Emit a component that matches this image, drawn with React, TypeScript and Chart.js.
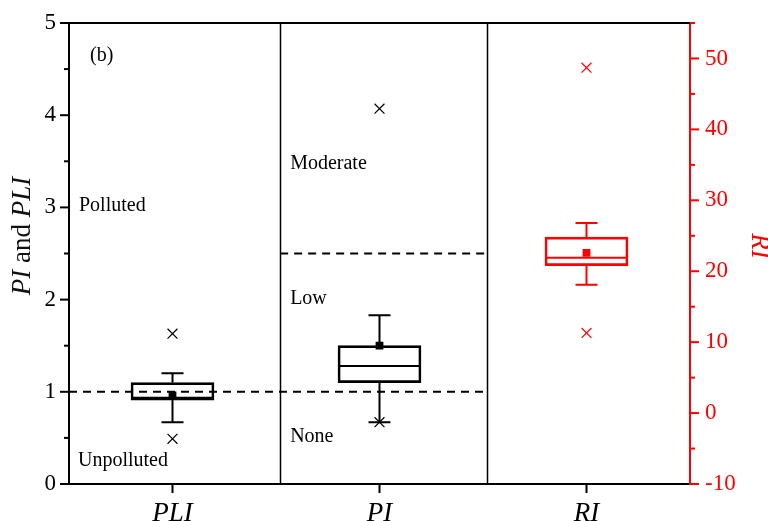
import { useEffect, useRef } from 'react';
import { Chart, registerables } from 'chart.js';

Chart.register(...registerables);

// Categories along the x axis
const categories = ['PLI', 'PI', 'RI'];

// Box statistics: [whisker low, Q1, median, Q3, whisker high]
const pliBox = [0.67, 0.91, 0.935, 1.1, 1.2];
const piBox = [0.67, 1.1, 1.28, 1.5, 1.83];
const riBox = [18.1, 20.8, 21.9, 24.8, 26.8];

// Mean values (PLI, PI on the left axis; RI on the right axis)
const meanValues = [0.96, 1.5, 22.6];

// Outliers
const pliOutliers = [1.63, 0.49];
const piOutliers = [4.07, 0.67];
const riOutliers = [48.7, 11.3];

// Axis ranges and tick steps
const leftRange = [0, 5];
const rightRange = [-10, 55];
const leftMajor = 1;
const rightMajor = 10;

// Class thresholds
const pliThreshold = 1;
const piThresholds = [1, 2.5];

// Panel dividers, in category units
const dividers = [0.52, 1.52];

const FONT = "'Liberation Serif', 'Times New Roman', serif";
const RED = '#ff0000';

const catPx = (x: any, v: number) => {
  const a = x.getPixelForValue(0);
  const b = x.getPixelForValue(1);
  return a + (b - a) * v;
};

// keep tick labels from pushing the plot area inwards
const flattenPadding = (s: any) => {
  s.paddingTop = 0;
  s.paddingBottom = 0;
};

const boxPlugin = {
  id: 'boxDecor',
  beforeDatasetsDraw(chart: any) {
    const { ctx, chartArea, scales } = chart;
    const x = scales.x;
    const y = scales.y;
    ctx.save();
    ctx.strokeStyle = '#000';
    ctx.lineWidth = 2;
    ctx.setLineDash([8, 6]);
    // PLI threshold spans PLI and PI panels
    const y1 = y.getPixelForValue(pliThreshold);
    ctx.beginPath();
    ctx.moveTo(chartArea.left, y1);
    ctx.lineTo(catPx(x, dividers[1]), y1);
    ctx.stroke();
    // PI upper threshold only in PI panel
    const y2 = y.getPixelForValue(piThresholds[1]);
    ctx.beginPath();
    ctx.moveTo(catPx(x, dividers[0]), y2);
    ctx.lineTo(catPx(x, dividers[1]), y2);
    ctx.stroke();
    ctx.setLineDash([]);

    // panel separators
    ctx.lineWidth = 1.5;
    dividers.forEach((d) => {
      const px = Math.round(catPx(x, d)) + 0.5;
      ctx.beginPath();
      ctx.moveTo(px, chartArea.top);
      ctx.lineTo(px, chartArea.bottom);
      ctx.stroke();
    });
    ctx.restore();
  },
  afterDatasetsDraw(chart: any) {
    const { ctx, scales } = chart;
    const x = scales.x;
    const boxes = [
      { stats: pliBox, scale: scales.y, color: '#000' },
      { stats: piBox, scale: scales.y, color: '#000' },
      { stats: riBox, scale: scales.y2, color: RED },
    ];
    ctx.save();
    boxes.forEach((b, i) => {
      const cx = x.getPixelForValue(i);
      const boxHalf = 41.5;
      const capHalf = 11;
      const [lo, q1, med, q3, hi] = b.stats.map((v: number) => b.scale.getPixelForValue(v));
      ctx.strokeStyle = b.color;
      ctx.lineWidth = 2;
      // median
      ctx.beginPath();
      ctx.moveTo(cx - boxHalf, med);
      ctx.lineTo(cx + boxHalf, med);
      ctx.stroke();
      // whiskers
      ctx.beginPath();
      ctx.moveTo(cx, q3);
      ctx.lineTo(cx, hi);
      ctx.moveTo(cx - capHalf, hi);
      ctx.lineTo(cx + capHalf, hi);
      ctx.moveTo(cx, q1);
      ctx.lineTo(cx, lo);
      ctx.moveTo(cx - capHalf, lo);
      ctx.lineTo(cx + capHalf, lo);
      ctx.stroke();
    });
    ctx.restore();
  },
  afterDraw(chart: any) {
    const { ctx, chartArea, scales } = chart;
    const x = scales.x;
    const y = scales.y;
    const y2 = scales.y2;
    ctx.save();

    // top frame line
    ctx.strokeStyle = '#000';
    ctx.lineWidth = 2;
    ctx.beginPath();
    ctx.moveTo(chartArea.left - 1, chartArea.top);
    ctx.lineTo(chartArea.right, chartArea.top);
    ctx.stroke();

    // left axis ticks (major + minor)
    for (let v = leftRange[0]; v <= leftRange[1] + 1e-9; v += leftMajor / 2) {
      const py = y.getPixelForValue(v);
      const major = Math.abs(v - Math.round(v)) < 1e-9;
      ctx.beginPath();
      ctx.moveTo(chartArea.left, py);
      ctx.lineTo(chartArea.left - (major ? 9 : 5), py);
      ctx.stroke();
    }
    // bottom ticks at category centres
    categories.forEach((_, i) => {
      const px = x.getPixelForValue(i);
      ctx.beginPath();
      ctx.moveTo(px, chartArea.bottom);
      ctx.lineTo(px, chartArea.bottom + 9);
      ctx.stroke();
    });
    // right axis ticks
    ctx.strokeStyle = RED;
    for (let v = rightRange[0]; v <= rightRange[1] + 1e-9; v += rightMajor / 2) {
      const py = y2.getPixelForValue(v);
      const major = v % rightMajor === 0;
      ctx.beginPath();
      ctx.moveTo(chartArea.right, py);
      ctx.lineTo(chartArea.right + (major ? 9 : 5), py);
      ctx.stroke();
    }

    // annotations
    ctx.fillStyle = '#000';
    ctx.font = `20px ${FONT}`;
    ctx.textBaseline = 'middle';
    ctx.textAlign = 'left';
    ctx.fillText('(b)', chartArea.left + 21, y.getPixelForValue(4.65));
    ctx.fillText('Polluted', chartArea.left + 10, y.getPixelForValue(3.02));
    ctx.fillText('Unpolluted', chartArea.left + 9, y.getPixelForValue(0.25));
    const piLeft = catPx(x, dividers[0]) + 10;
    ctx.fillText('Moderate', piLeft, y.getPixelForValue(3.47));
    ctx.fillText('Low', piLeft, y.getPixelForValue(2.01));
    ctx.fillText('None', piLeft, y.getPixelForValue(0.51));

    // left axis title: "PI and PLI"
    const parts = [
      { t: 'PI', italic: true },
      { t: ' and ', italic: false },
      { t: 'PLI', italic: true },
    ];
    const titleSize = 27;
    let total = 0;
    parts.forEach((p) => {
      ctx.font = `${p.italic ? 'italic ' : ''}${titleSize}px ${FONT}`;
      total += ctx.measureText(p.t).width;
    });
    ctx.save();
    ctx.translate(23, 236);
    ctx.rotate(-Math.PI / 2);
    ctx.fillStyle = '#111';
    ctx.textAlign = 'left';
    ctx.textBaseline = 'middle';
    let cursor = -total / 2;
    parts.forEach((p) => {
      ctx.font = `${p.italic ? 'italic ' : ''}${titleSize}px ${FONT}`;
      ctx.fillText(p.t, cursor, 0);
      cursor += ctx.measureText(p.t).width;
    });
    ctx.restore();

    // right axis title: "RI"
    ctx.save();
    ctx.translate(759, 246);
    ctx.rotate(Math.PI / 2);
    ctx.fillStyle = RED;
    ctx.font = `italic ${titleSize}px ${FONT}`;
    ctx.textAlign = 'center';
    ctx.textBaseline = 'middle';
    ctx.fillText('RI', 0, 0);
    ctx.restore();

    ctx.restore();
  },
};

export default function App() {
  const canvasRef = useRef<HTMLCanvasElement>(null);

  useEffect(() => {
    document.body.style.margin = '0';
    const canvas = canvasRef.current;
    if (!canvas) return;

    const outlierPoints = (vals: number[], cat: string) => vals.map((v) => ({ x: cat, y: v }));

    const chart = new Chart(canvas, {
      type: 'bar',
      data: {
        labels: categories,
        datasets: [
          {
            type: 'bar',
            label: 'PLI / PI',
            data: [[pliBox[1], pliBox[3]], [piBox[1], piBox[3]], null] as any,
            yAxisID: 'y',
            backgroundColor: 'rgba(255,255,255,0)',
            borderColor: '#000',
            borderWidth: 2,
            borderSkipped: false,
            barThickness: 83,
            grouped: false,
          } as any,
          {
            type: 'bar',
            label: 'RI',
            data: [null, null, [riBox[1], riBox[3]]] as any,
            yAxisID: 'y2',
            backgroundColor: 'rgba(255,255,255,0)',
            borderColor: RED,
            borderWidth: 2,
            borderSkipped: false,
            barThickness: 83,
            grouped: false,
          } as any,
          {
            type: 'scatter',
            label: 'Outliers',
            data: [...outlierPoints(pliOutliers, 'PLI'), ...outlierPoints(piOutliers, 'PI')] as any,
            yAxisID: 'y',
            pointStyle: 'crossRot',
            pointRadius: 7,
            borderColor: '#000',
            borderWidth: 1.2,
          } as any,
          {
            type: 'scatter',
            label: 'RI outliers',
            data: outlierPoints(riOutliers, 'RI') as any,
            yAxisID: 'y2',
            pointStyle: 'crossRot',
            pointRadius: 7,
            borderColor: RED,
            borderWidth: 1.2,
          } as any,
          {
            type: 'scatter',
            label: 'Mean',
            data: [
              { x: 'PLI', y: meanValues[0] },
              { x: 'PI', y: meanValues[1] },
            ] as any,
            yAxisID: 'y',
            pointStyle: 'rect',
            pointRadius: 5.5,
            backgroundColor: '#000',
            borderColor: '#000',
            borderWidth: 0,
          } as any,
          {
            type: 'scatter',
            label: 'RI mean',
            data: [{ x: 'RI', y: meanValues[2] }] as any,
            yAxisID: 'y2',
            pointStyle: 'rect',
            pointRadius: 5.5,
            backgroundColor: RED,
            borderColor: RED,
            borderWidth: 0,
          } as any,
        ],
      },
      options: {
        responsive: false,
        animation: false,
        devicePixelRatio: 1,
        layout: { padding: { top: 23, left: 0, right: 0, bottom: 0 } },
        plugins: {
          legend: { display: false },
          tooltip: { enabled: false },
        },
        scales: {
          x: {
            type: 'category',
            offset: true,
            grid: { display: false, drawTicks: false },
            border: { display: true, color: '#000', width: 2 },
            ticks: {
              color: '#000',
              padding: 14,
              font: { family: FONT, size: 27, style: 'italic' },
            },
            afterFit: (s: any) => {
              s.height = 37;
            },
          },
          y: {
            type: 'linear',
            position: 'left',
            min: leftRange[0],
            max: leftRange[1],
            grid: { display: false, drawTicks: false },
            border: { display: true, color: '#000', width: 2 },
            ticks: {
              stepSize: leftMajor,
              color: '#000',
              padding: 13,
              font: { family: FONT, size: 23 },
            },
            afterFit: (s: any) => {
              s.width = 69;
              flattenPadding(s);
            },
          },
          y2: {
            type: 'linear',
            position: 'right',
            min: rightRange[0],
            max: rightRange[1],
            grid: { display: false, drawTicks: false },
            border: { display: true, color: RED, width: 2 },
            ticks: {
              stepSize: rightMajor,
              color: RED,
              padding: 15,
              font: { family: FONT, size: 23 },
            },
            afterBuildTicks: (s: any) => {
              s.ticks = s.ticks.filter((t: any) => t.value % rightMajor === 0);
            },
            afterFit: (s: any) => {
              s.width = 78;
              flattenPadding(s);
            },
          },
        },
      } as any,
      plugins: [boxPlugin],
    });

    return () => chart.destroy();
  }, []);

  return (
    <div style={{ width: 768, height: 521, background: '#fff' }}>
      <canvas ref={canvasRef} width={768} height={521} style={{ display: 'block', width: 768, height: 521 }} />
    </div>
  );
}
